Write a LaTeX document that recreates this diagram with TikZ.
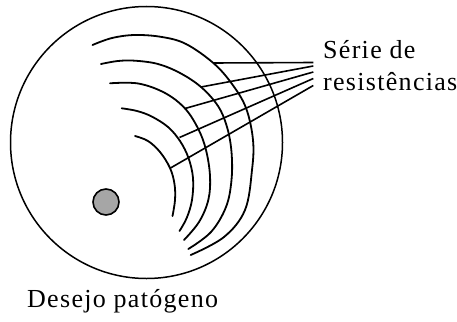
\documentclass[tikz,border=0pt]{standalone}
\usepackage{fontspec}
\setmainfont{Liberation Serif}
\newfontfamily\lblfont[LetterSpace=5]{Liberation Serif}
\begin{document}
\begin{tikzpicture}[x=1pt,y=-1pt,
  arcline/.style={line width=1.8pt,line cap=round},
  ray/.style={line width=1.6pt},
  lbl/.style={font=\lblfont\fontsize{26}{26}\selectfont,inner sep=0pt,anchor=base west}]
\useasboundingbox (0,0) rectangle (457,321);
% outer circle
\draw[line width=1.5pt] (146.5,142.5) circle[radius=136];
% pathogenic desire
\draw[line width=1.6pt,fill=black!35] (106,202) circle[radius=13];
% arcs
\draw[arcline] plot[smooth,tension=0.6] coordinates {(135,136) (148,141) (160,152) (170,168) (174.5,184) (175,200) (172.5,216)};
\draw[arcline] plot[smooth,tension=0.6] coordinates {(121.7,108.3) (137,111) (151.7,116.5) (168,127) (180,141) (188.5,158) (193,178) (192,200) (186.7,218) (179.5,231)};
\draw[arcline] plot[smooth,tension=0.6] coordinates {(110,83.3) (138.3,83.5) (165,93) (185,108.5) (198.3,129) (206,150) (210,176) (208.3,200) (199,222) (184,240)};
\draw[arcline] plot[smooth,tension=0.6] coordinates {(101,64) (118,61) (135,60.7) (158,64) (180,73) (201,87) (218,106) (227,127) (231.5,152) (231.5,180) (226,207) (211,232) (188.3,249)};
\draw[arcline] plot[smooth,tension=0.6] coordinates {(92.5,45) (112,38) (135,35) (162,37) (186,44) (213.3,63) (232,84) (246,108) (253,140) (252,170) (245,210) (224,237) (190.7,255)};
% ray end coordinates
\coordinate (a5) at (213.3,63);
\coordinate (a4) at (201,87);
\coordinate (a3) at (185,108.5);
\coordinate (a2) at (179.5,137.5);
\coordinate (a1) at (170.5,168);
\coordinate (r5) at (313.3,62.5);
\coordinate (r4) at (313.3,66);
\coordinate (r3) at (313.3,72);
\coordinate (r2) at (313.3,78.5);
\coordinate (r1) at (313.3,85.5);
\foreach \i in {1,...,5} \draw[ray] (a\i) -- (r\i);
% labels
\node[lbl] (serie) at (323,58) {Série de};
\node[lbl] (resist) at (323,90) {resistências};
\node[lbl] (desejo) at (27,307) {Desejo patógeno};
\end{tikzpicture}
\end{document}
